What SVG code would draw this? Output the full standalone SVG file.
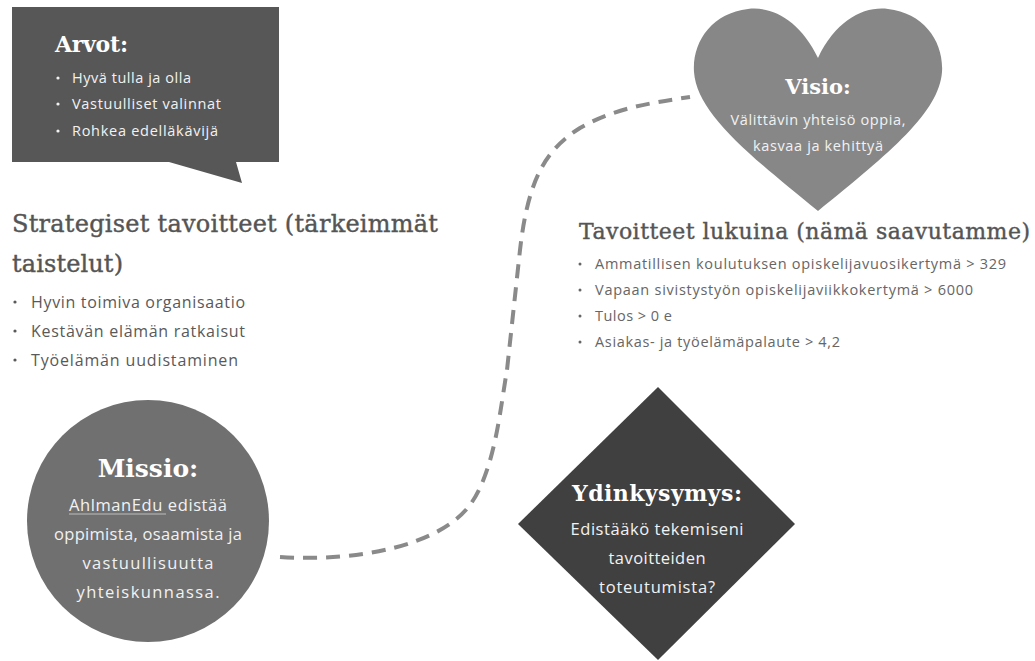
<svg xmlns="http://www.w3.org/2000/svg" width="1035" height="661" viewBox="0 0 1035 661">
  <style>
    .title { font-family: "DejaVu Serif", "Liberation Serif", serif; font-weight: bold; fill: #ffffff; }
    .head { font-family: "DejaVu Serif", "Liberation Serif", serif; fill: #555555; stroke: #555555; stroke-width: 0.4; }
    .body { font-family: "Open Sans", "DejaVu Sans", sans-serif; }
    .white { fill: #f2f2f2; }
    .grey { fill: #595959; }
    .mid { text-anchor: middle; }
    .dash { fill: none; stroke: #8a8a8a; stroke-width: 4; stroke-dasharray: 14 9; }
  </style>

  <rect width="1035" height="661" fill="#ffffff"/>

  <!-- dashed path linking mission to vision -->
  <g id="connectors">
    <path class="dash" d="M 280 557 C 360 562, 440 545, 470 505 C 495 470, 500 410, 507 370 L 520 250 C 528 180, 545 150, 580 128 C 615 108, 650 103, 690 97"/>
  </g>

  <!-- values speech bubble -->
  <g id="arvot">
    <path d="M 12 7 L 279 7 L 279 162 L 236 162 L 242 183 L 169 162 L 12 162 Z" fill="#575757"/>
    <text class="title" x="55" y="52" font-size="22" textLength="73">Arvot:</text>
    <g class="body white" font-size="14.5">
      <circle cx="58" cy="78" r="1.6" fill="#f2f2f2"/>
      <circle cx="58" cy="104" r="1.6" fill="#f2f2f2"/>
      <circle cx="58" cy="131" r="1.6" fill="#f2f2f2"/>
      <text x="72" y="83" textLength="119">Hyvä tulla ja olla</text>
      <text x="72" y="109" textLength="149">Vastuulliset valinnat</text>
      <text x="72" y="136" textLength="146">Rohkea edelläkävijä</text>
    </g>
  </g>

  <!-- vision heart -->
  <g id="visio">
    <path d="M 818 58 C 800 20, 772 6, 748 9 C 712 13, 692 42, 694 72 C 697 112, 745 152, 818 211 C 891 152, 939 112, 942 72 C 944 42, 924 13, 888 9 C 864 6, 836 20, 818 58 Z" fill="#878787"/>
    <text class="title mid" x="818" y="94" font-size="21">Visio:</text>
    <g class="body white mid" font-size="14.5">
      <text x="818" y="125" textLength="175">Välittävin yhteisö oppia,</text>
      <text x="818" y="151" textLength="130">kasvaa ja kehittyä</text>
    </g>
  </g>

  <!-- strategic goals -->
  <g id="strategiset">
    <text class="head" x="12" y="232" font-size="24" textLength="426">Strategiset tavoitteet (tärkeimmät</text>
    <text class="head" x="12" y="272" font-size="24" textLength="111">taistelut)</text>
    <g class="body grey" font-size="16">
      <circle cx="15" cy="302" r="1.6" fill="#595959"/>
      <circle cx="15" cy="331" r="1.6" fill="#595959"/>
      <circle cx="15" cy="360" r="1.6" fill="#595959"/>
      <text x="31" y="308" textLength="214">Hyvin toimiva organisaatio</text>
      <text x="31" y="337" textLength="214">Kestävän elämän ratkaisut</text>
      <text x="31" y="366" textLength="207">Työelämän uudistaminen</text>
    </g>
  </g>

  <!-- numeric goals -->
  <g id="tavoitteet">
    <text class="head" x="579" y="239" font-size="22" textLength="451">Tavoitteet lukuina (nämä saavutamme)</text>
    <g class="body" font-size="14.5" fill="#666666">
      <circle cx="580" cy="264" r="1.5" fill="#666666"/>
      <circle cx="580" cy="290" r="1.5" fill="#666666"/>
      <circle cx="580" cy="316" r="1.5" fill="#666666"/>
      <circle cx="580" cy="342" r="1.5" fill="#666666"/>
      <text x="595" y="269" textLength="411">Ammatillisen koulutuksen opiskelijavuosikertymä &gt; 329</text>
      <text x="595" y="295" textLength="378">Vapaan sivistystyön opiskelijaviikkokertymä &gt; 6000</text>
      <text x="595" y="321" textLength="77">Tulos &gt; 0 e</text>
      <text x="595" y="347" textLength="245">Asiakas- ja työelämäpalaute &gt; 4,2</text>
    </g>
  </g>

  <!-- mission circle -->
  <g id="missio">
    <circle cx="148" cy="521" r="121" fill="#707070"/>
    <text class="title mid" x="148" y="477" font-size="25">Missio:</text>
    <g class="body white mid" font-size="16.5">
      <text x="148" y="511" textLength="158">AhlmanEdu edistää</text>
      <text x="148" y="540" textLength="188">oppimista, osaamista ja</text>
      <text x="148" y="569" textLength="131">vastuullisuutta</text>
      <text x="148" y="598" textLength="143">yhteiskunnassa.</text>
    </g>
    <line x1="69" y1="514" x2="166" y2="514" stroke="#bdbdbd" stroke-width="1"/>
  </g>

  <!-- core question diamond -->
  <g id="ydinkysymys">
    <polygon points="658,387 795,524 658,660 518,524" fill="#404040"/>
    <text class="title mid" x="657" y="501" font-size="22" textLength="170">Ydinkysymys:</text>
    <g class="body white mid" font-size="16.5">
      <text x="657" y="535" textLength="173">Edistääkö tekemiseni</text>
      <text x="657" y="564" textLength="97">tavoitteiden</text>
      <text x="657" y="593" textLength="116">toteutumista?</text>
    </g>
  </g>
</svg>
